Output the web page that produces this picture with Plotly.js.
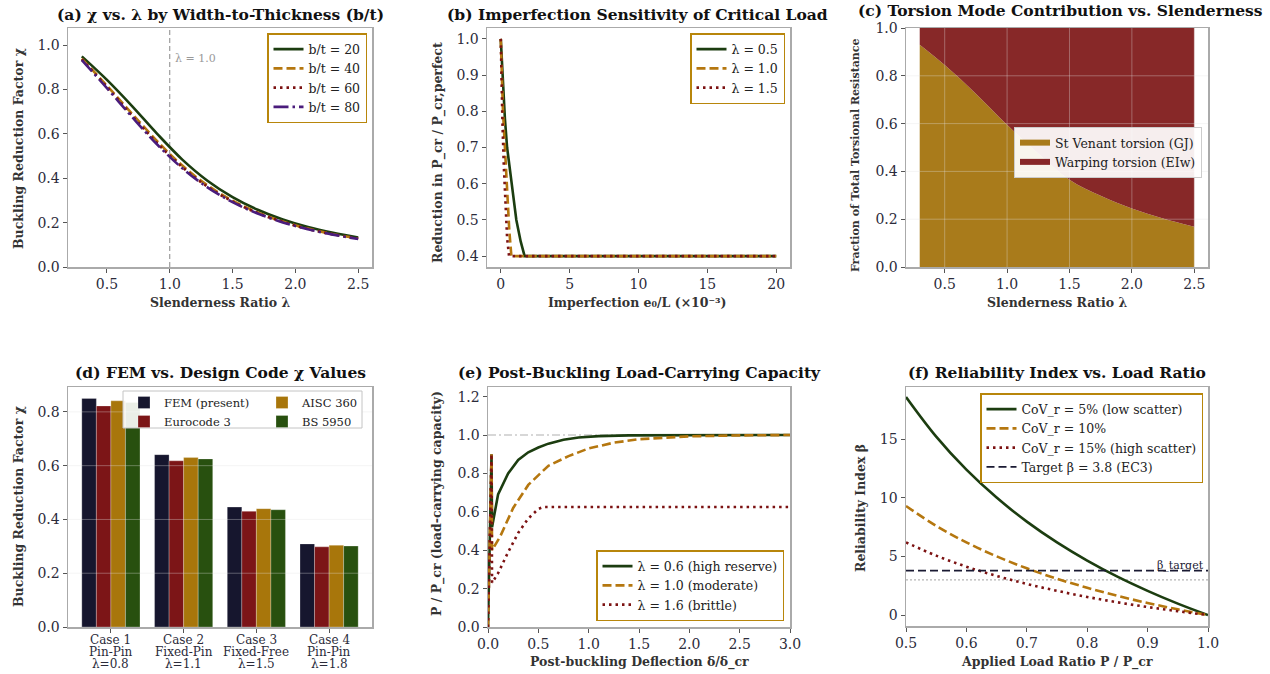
<!DOCTYPE html>
<html><head><meta charset="utf-8">
<script src="https://cdn.plot.ly/plotly-3.0.1.min.js"></script>
<style>body{margin:0;background:#fff}#chart{width:1270px;height:674px}</style>
</head><body><div id="chart"></div>
<script>
// ---------- (a) chi vs lambda by b/t ----------
const lambdaA = [0.3,0.5,0.7,0.9,1.1,1.3,1.5,1.7,1.9,2.1,2.3,2.5];
const chiBt20 = [0.949,0.843,0.725,0.600,0.484,0.389,0.315,0.258,0.214,0.180,0.154,0.133];
const chiBt40 = [0.939,0.817,0.691,0.567,0.457,0.368,0.299,0.246,0.205,0.173,0.148,0.128];
const chiBt60 = [0.936,0.811,0.682,0.558,0.450,0.362,0.295,0.243,0.203,0.171,0.147,0.127];
const chiBt80 = [0.932,0.806,0.676,0.552,0.445,0.359,0.292,0.241,0.201,0.170,0.146,0.126];
const refLambda = 1.0;

// ---------- (b) imperfection sensitivity ----------
const impL05 = [0, 0.12, 0.3, 0.46, 0.8, 1.13, 1.45, 1.73, 20];
const redL05 = [1.0, 0.9, 0.78, 0.7, 0.59, 0.5, 0.44, 0.4, 0.4];
const impL10 = [0, 0.06, 0.16, 0.3, 0.48, 0.62, 0.77, 20];
const redL10 = [1.0, 0.9, 0.8, 0.7, 0.56, 0.47, 0.4, 0.4];
const impL15 = [0, 0.05, 0.12, 0.22, 0.34, 0.46, 0.6, 20];
const redL15 = [1.0, 0.88, 0.77, 0.65, 0.53, 0.45, 0.4, 0.4];

// ---------- (c) torsion mode contribution ----------
const lambdaC = [0.3,0.5,0.75,1.0,1.25,1.5,1.75,2.0,2.25,2.5];
const stVenant = [0.93,0.845,0.725,0.595,0.475,0.365,0.298,0.245,0.203,0.168];
const warping  = [0.07,0.155,0.275,0.405,0.525,0.635,0.702,0.755,0.797,0.832];

// ---------- (d) FEM vs design codes ----------
const caseNames = ['Case 1','Case 2','Case 3','Case 4'];
const caseSupports = ['Pin-Pin','Fixed-Pin','Fixed-Free','Pin-Pin'];
const caseLambdas = ['λ=0.8','λ=1.1','λ=1.5','λ=1.8'];
const chiFEM  = [0.850, 0.641, 0.446, 0.309];
const chiEC3  = [0.822, 0.618, 0.430, 0.298];
const chiAISC = [0.841, 0.630, 0.440, 0.304];
const chiBS   = [0.835, 0.625, 0.436, 0.301];

// ---------- (e) post-buckling capacity ----------
const defL06 = [0, 0.035, 0.04, 0.1, 0.2, 0.3, 0.4, 0.5, 0.6, 0.75, 0.9, 1.1, 1.4, 2.0, 3.0];
const capL06 = [0, 0.9, 0.52, 0.69, 0.8, 0.87, 0.91, 0.935, 0.955, 0.975, 0.987, 0.994, 0.998, 1.0, 1.0];
const defL10 = [0, 0.035, 0.04, 0.12, 0.25, 0.4, 0.6, 0.8, 1.0, 1.25, 1.5, 2.0, 2.5, 3.0];
const capL10 = [0, 0.9, 0.40, 0.47, 0.62, 0.74, 0.84, 0.89, 0.93, 0.96, 0.978, 0.993, 0.998, 1.0];
const defL16 = [0, 0.035, 0.04, 0.1, 0.2, 0.3, 0.4, 0.5, 0.55, 3.0];
const capL16 = [0, 0.9, 0.23, 0.28, 0.39, 0.49, 0.565, 0.615, 0.625, 0.625];
const capRef = 1.0;

// ---------- (f) reliability index ----------
const loadRatio = [0.5,0.55,0.6,0.65,0.7,0.75,0.8,0.85,0.9,0.95,1.0];
const betaCoV5  = [18.6,15.22,12.4,10.02,7.97,6.2,4.65,3.28,2.07,0.98,0];
const betaCoV10 = [9.3,7.61,6.2,5.01,3.99,3.1,2.33,1.64,1.03,0.49,0];
const betaCoV15 = [6.2,5.07,4.13,3.34,2.66,2.07,1.55,1.09,0.69,0.33,0];
const betaTarget = 3.8;
const betaMin = 3.0;

// ---------- styling ----------
const F = 'DejaVu Serif';
const GREEN = '#1c3d10', GOLD = '#b5770f', RED = '#7c1212', PURPLE = '#4a1c7c';
const DASH = '9px,4px', DOT = '2.5px,4px', DASHDOT = '15px,4px,2.5px,4px';
const W = 1270, H = 674;
const px = v => v / W, py = v => 1 - v / H;

const traces = [];
function line(x, y, name, color, dash, xa, ya, lg, shape) {
  traces.push({x, y, name, type:'scatter', mode:'lines', xaxis:xa, yaxis:ya, legend:lg,
    line:{color, width:2.6, dash, shape: shape || 'linear'}});
}
// (a)
line(lambdaA, chiBt20, 'b/t = 20', GREEN, 'solid', 'x', 'y', 'legend', 'spline');
line(lambdaA, chiBt40, 'b/t = 40', GOLD, DASH, 'x', 'y', 'legend', 'spline');
line(lambdaA, chiBt60, 'b/t = 60', RED, DOT, 'x', 'y', 'legend', 'spline');
line(lambdaA, chiBt80, 'b/t = 80', PURPLE, DASHDOT, 'x', 'y', 'legend', 'spline');
// (b)
line(impL05, redL05, 'λ = 0.5', GREEN, 'solid', 'x2', 'y2', 'legend2');
line(impL10, redL10, 'λ = 1.0', GOLD, DASH, 'x2', 'y2', 'legend2');
line(impL15, redL15, 'λ = 1.5', RED, DOT, 'x2', 'y2', 'legend2');
// (c)
traces.push({x:lambdaC, y:stVenant, name:'St Venant torsion (GJ)', type:'scatter', mode:'none',
  stackgroup:'c', fillcolor:'#a97b1b', line:{width:0, shape:'spline'}, xaxis:'x3', yaxis:'y3', legend:'legend3'});
traces.push({x:lambdaC, y:warping, name:'Warping torsion (EIw)', type:'scatter', mode:'none',
  stackgroup:'c', fillcolor:'#872828', line:{width:0, shape:'spline'}, xaxis:'x3', yaxis:'y3', legend:'legend3'});
// (d)
const barDefs = [['FEM (present)', chiFEM, '#16162e', 'legend4', 1],
                 ['Eurocode 3', chiEC3, '#7c1517', 'legend4', 2],
                 ['AISC 360', chiAISC, '#a8760b', 'legend5', 1],
                 ['BS 5950', chiBS, '#28500f', 'legend5', 2]];
barDefs.forEach(([name, y, color, lg, rank]) => traces.push({type:'bar', x:caseNames, y, name,
  marker:{color, line:{color:'rgba(255,255,255,0.5)', width:0.5}}, xaxis:'x4', yaxis:'y4', legend:lg, legendrank:rank}));
// (e)
line(defL06, capL06, 'λ = 0.6 (high reserve)', GREEN, 'solid', 'x5', 'y5', 'legend6');
line(defL10, capL10, 'λ = 1.0 (moderate)', GOLD, DASH, 'x5', 'y5', 'legend6');
line(defL16, capL16, 'λ = 1.6 (brittle)', RED, DOT, 'x5', 'y5', 'legend6');
// (f)
line(loadRatio, betaCoV5, 'CoV_r = 5% (low scatter)', GREEN, 'solid', 'x6', 'y6', 'legend7', 'spline');
line(loadRatio, betaCoV10, 'CoV_r = 10%', GOLD, DASH, 'x6', 'y6', 'legend7', 'spline');
line(loadRatio, betaCoV15, 'CoV_r = 15% (high scatter)', RED, DOT, 'x6', 'y6', 'legend7', 'spline');
traces.push({x:[loadRatio[0], loadRatio[loadRatio.length-1]], y:[betaTarget, betaTarget], name:'Target β = 3.8 (EC3)',
  type:'scatter', mode:'lines', line:{color:'#1a1a33', width:1.8, dash:'8px,4px'}, xaxis:'x6', yaxis:'y6', legend:'legend7'});

// ---------- axes ----------
function ax(domain, range, extra) {
  return Object.assign({domain, range, showline:true, mirror:true, linecolor:'#aaaaaa', linewidth:1.5,
    ticks:'outside', ticklen:4, tickwidth:1, tickcolor:'#555', showgrid:false, zeroline:false,
    tickfont:{family:F, size:14, color:'#2b2b3a'}}, extra || {});
}
const colX = [[px(68), px(372)], [px(487), px(790)], [px(906), px(1208)]];
const topY = [py(267), py(28)], botY = [py(627), py(387)];

const layout = {
  width:W, height:H, margin:{l:0, r:0, t:0, b:0}, paper_bgcolor:'#fff', plot_bgcolor:'#fff',
  showlegend:true, barmode:'group', bargap:0.2, bargroupgap:0,
  xaxis:  ax(colX[0], [0.19, 2.61], {anchor:'y', tick0:0.5, dtick:0.5, tickformat:'.1f'}),
  yaxis:  ax(topY, [0, 1.077], {anchor:'x', tick0:0, dtick:0.2, tickformat:'.1f'}),
  xaxis2: ax(colX[1], [-1, 21], {anchor:'y2', tick0:0, dtick:5}),
  yaxis2: ax(topY, [0.37, 1.03], {anchor:'x2', tick0:0.4, dtick:0.1, tickformat:'.1f'}),
  xaxis3: ax(colX[2], [0.19, 2.61], {anchor:'y3', tick0:0.5, dtick:0.5, tickformat:'.1f'}),
  yaxis3: ax(topY, [0, 1], {anchor:'x3', tick0:0, dtick:0.2, tickformat:'.1f'}),
  xaxis4: ax(colX[0], [-0.59, 3.59], {anchor:'y4', type:'category', showticklabels:false}),
  yaxis4: ax(botY, [0, 0.8925], {anchor:'x4', tick0:0, dtick:0.2, tickformat:'.1f'}),
  xaxis5: ax([px(488), px(790)], [0, 3], {anchor:'y5', tick0:0, dtick:0.5, tickformat:'.1f'}),
  yaxis5: ax(botY, [0, 1.25], {anchor:'x5', tick0:0, dtick:0.2, tickformat:'.1f'}),
  xaxis6: ax(colX[2], [0.5, 1.0], {anchor:'y6', tick0:0.5, dtick:0.1, tickformat:'.1f'}),
  yaxis6: ax([py(626), py(387)], [-0.93, 19.45], {anchor:'x6', tick0:0, dtick:5}),
};

const legBase = {font:{family:F, size:12.5, color:'#222'}, bgcolor:'rgba(255,255,255,0.92)',
  bordercolor:'#b8860b', borderwidth:1.5, xanchor:'right', yanchor:'top', itemwidth:30, tracegroupgap:0};
const legD = {font:{family:F, size:11.5, color:'#222'}, xanchor:'left', bgcolor:'rgba(0,0,0,0)', borderwidth:0};
layout.legend  = Object.assign({}, legBase, {x:px(367), y:py(33)});
layout.legend2 = Object.assign({}, legBase, {x:px(785), y:py(33)});
layout.legend3 = Object.assign({}, legBase, {x:px(1202), y:py(127), bordercolor:'#cccccc', borderwidth:1, traceorder:'normal'});
layout.legend4 = Object.assign({}, legBase, legD, {x:px(124), y:py(388)});
layout.legend5 = Object.assign({}, legBase, legD, {x:px(262), y:py(388)});
layout.legend6 = Object.assign({}, legBase, {x:px(784), y:py(621), yanchor:'bottom'});
layout.legend7 = Object.assign({}, legBase, {x:px(1203), y:py(393)});

// ---------- shapes ----------
const shapes = [];
shapes.push({type:'line', xref:'x', yref:'y domain', x0:refLambda, x1:refLambda, y0:0, y1:1,
  line:{color:'#888', width:1, dash:'5px,3px'}, layer:'below'});
shapes.push({type:'line', xref:'x5 domain', yref:'y5', x0:0, x1:1, y0:capRef, y1:capRef,
  line:{color:'#b0b0b0', width:1.2, dash:'8px,3px,2px,3px'}, layer:'below'});
shapes.push({type:'line', xref:'x6 domain', yref:'y6', x0:0, x1:1, y0:betaMin, y1:betaMin,
  line:{color:'#b5b5b5', width:1.2, dash:'2px,2px'}, layer:'below'});
const gridCol = 'rgba(225,225,225,0.35)';
[0.5, 1.0, 1.5, 2.0, 2.5].forEach(v => shapes.push({type:'line', xref:'x3', yref:'y3 domain', x0:v, x1:v, y0:0, y1:1, line:{color:gridCol, width:1}, layer:'above'}));
[0.2, 0.4, 0.6, 0.8].forEach(v => shapes.push({type:'line', xref:'x3 domain', yref:'y3', x0:0, x1:1, y0:v, y1:v, line:{color:gridCol, width:1}, layer:'above'}));
[0.2, 0.4, 0.6, 0.8].forEach(v => shapes.push({type:'line', xref:'x4 domain', yref:'y4', x0:0, x1:1, y0:v, y1:v, line:{color:gridCol, width:1}, layer:'above'}));
// frame for the two-column legend of (d)
shapes.push({type:'rect', xref:'paper', yref:'paper', x0:px(123), x1:px(362), y0:py(428), y1:py(391),
  fillcolor:'rgba(255,255,255,0.9)', line:{color:'#c4c4c4', width:1}, layer:'above'});
layout.shapes = shapes;

// ---------- annotations ----------
const ann = [];
const tFont = {family:F, size:15.5, color:'#111', weight:'bold'};
const lFont = {family:F, size:12.5, color:'#333', weight:'bold'};
function txt(text, x, y, font, extra) {
  ann.push(Object.assign({text, x, y, xref:'paper', yref:'paper', showarrow:false, xanchor:'center', yanchor:'middle', font}, extra || {}));
}
txt('(a) χ vs. λ by Width-to-Thickness (b/t)', px(220), py(14), tFont);
txt('(b) Imperfection Sensitivity of Critical Load', px(638), py(14), tFont);
txt('(c) Torsion Mode Contribution vs. Slenderness', px(1060), py(11), tFont);
txt('(d) FEM vs. Design Code χ Values', px(220), py(373), tFont);
txt('(e) Post-Buckling Load-Carrying Capacity', px(639), py(373), tFont);
txt('(f) Reliability Index vs. Load Ratio', px(1057), py(373), tFont);

txt('Slenderness Ratio λ', px(220), py(302), lFont);
txt('Imperfection e₀/L (×10⁻³)', px(638), py(302), lFont);
txt('Slenderness Ratio λ', px(1057), py(302), lFont);
txt('Post-buckling Deflection δ/δ_cr', px(639), py(662), lFont);
txt('Applied Load Ratio P / P_cr', px(1057), py(662), lFont);

txt('Buckling Reduction Factor χ', px(18), py(149), lFont, {textangle:-90});
txt('Reduction in P_cr / P_cr,perfect', px(438), py(153), lFont, {textangle:-90});
txt('Fraction of Total Torsional Resistance', px(855), py(155), Object.assign({}, lFont, {size:11}), {textangle:-90});
txt('Buckling Reduction Factor χ', px(18), py(507), lFont, {textangle:-90});
txt('P / P_cr (load-carrying capacity)', px(437), py(504), lFont, {textangle:-90});
txt('Reliability Index β', px(860), py(508), lFont, {textangle:-90});

// (d) category labels, one line each
const tickFontD = {family:F, size:12, color:'#2b2b3a'};
caseNames.forEach((c, i) => {
  [[caseNames[i], 640], [caseSupports[i], 652], [caseLambdas[i], 664]].forEach(([t, yy]) =>
    ann.push({text:t, x:c, y:py(yy), xref:'x4', yref:'paper', showarrow:false, xanchor:'center', yanchor:'middle', font:tickFontD}));
});

ann.push({text:'λ = 1.0', x:refLambda, y:0.94, xref:'x', yref:'y', xshift:3, showarrow:false,
  xanchor:'left', yanchor:'middle', font:{family:F, size:11, color:'#999'}});
ann.push({text:'β_target', x:1.0, y:betaTarget, xref:'x6', yref:'y6', xshift:-2, yshift:-3, showarrow:false,
  xanchor:'right', yanchor:'bottom', font:{family:F, size:11, color:'#1a1a33'}});
layout.annotations = ann;

Plotly.newPlot('chart', traces, layout, {displayModeBar:false, staticPlot:true});
</script>
</body></html>
